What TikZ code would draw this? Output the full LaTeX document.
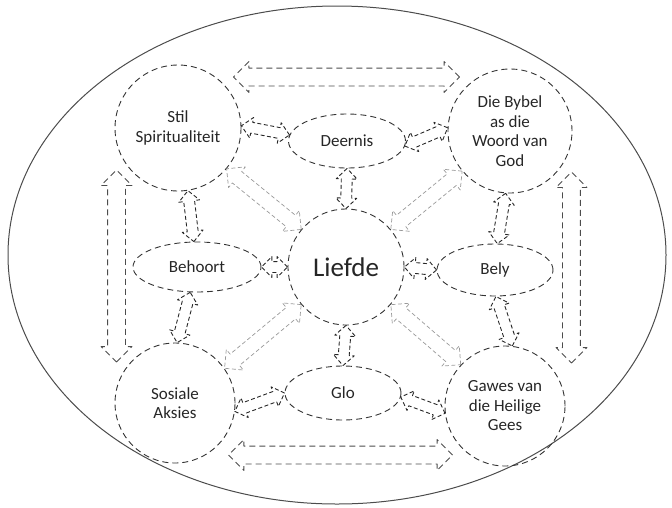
\documentclass[tikz,border=0pt]{standalone}
\usepackage{fontspec}
\setmainfont{Carlito}
\usetikzlibrary{shapes.geometric,shapes.arrows,calc}

\newcommand{\twoway}[3][]{%
  \path let \p1=(#2), \p2=(#3), \n1={veclen(\x2-\x1,\y2-\y1)} in
    (\p1) -- node[sloped,#1,minimum height=\n1] {} (\p2);}

\begin{document}
\begin{tikzpicture}[line join=round,x=1pt,y=-1pt,
  ring/.style={circle,draw=black!80,dash pattern=on 6pt off 4pt,line width=0.9pt,minimum size=#1,inner sep=1pt,align=center,text=black!85,font=\fontsize{17}{19.5}\selectfont},
  oval/.style 2 args={ellipse,draw=black!80,dash pattern=on 6pt off 4pt,line width=0.9pt,minimum width=#1,minimum height=#2,inner sep=1pt,text=black!85,font=\fontsize{17}{19.5}\selectfont},
  linkarrow/.style={double arrow,draw=black!85,dash pattern=on 4pt off 2.5pt,line width=0.9pt,inner xsep=0pt,inner ysep=5pt,double arrow head extend=5},
  bigarrow/.style={linkarrow,draw=black!70,dash pattern=on 6pt off 4pt,inner ysep=8.5pt,double arrow head extend=6.5},
  softarrow/.style={linkarrow,draw=black!40,line width=0.7pt,inner ysep=7pt,double arrow head extend=6}]
\useasboundingbox (0,0) rectangle (672,507);
\draw[black!70,line width=1pt] (337,255) ellipse (329 and 249);

\node[ring=126] (stil) at (178,128) {Stil\\Spiritualiteit};
\node[ring=124] (bybel) at (510,131) {Die Bybel\\as die\\Woord van\\God};
\node[ring=120] (sosiale) at (175,403) {Sosiale\\Aksies};
\node[ring=120] (gawes) at (505,406) {Gawes van\\die Heilige\\Gees};
\node[ring=116,font=\fontsize{27}{30}\selectfont] (liefde) at (346,267) {Liefde};

\node[oval={117}{54}] (deernis) at (347,141) {Deernis};
\node[oval={128}{50}] (behoort) at (197,267) {Behoort};
\node[oval={116}{52}] (bely) at (495,270) {Bely};
\node[oval={116}{54}] (glo) at (343,393) {Glo};

% outer ring
\twoway[bigarrow]{$(stil.east)+(-8,-51)$}{$(bybel.west)+(12,-54)$}
\twoway[bigarrow]{$(sosiale.east)+(-7,52)$}{$(gawes.west)+(8,49)$}
\twoway[bigarrow]{$(stil.west)+(2,42)$}{$(sosiale.west)+(2,-41)$}
\twoway[bigarrow]{$(bybel.east)+(-1,41)$}{$(gawes.east)+(6,-43)$}

% neighbours
\twoway[linkarrow]{stil.2}{deernis.174}
\twoway[linkarrow]{deernis.-5}{bybel.177}
\twoway[linkarrow]{stil.-81}{behoort.97}
\twoway[linkarrow]{bybel.-94}{bely.85}
\twoway[linkarrow]{behoort.-105}{sosiale.88}
\twoway[linkarrow]{bely.-88}{gawes.83}
\twoway[linkarrow]{sosiale.-8}{glo.west}
\twoway[linkarrow]{glo.-4}{gawes.187}

% to the centre
\twoway[linkarrow]{deernis.-90}{liefde.90}
\twoway[linkarrow]{behoort.east}{liefde.west}
\twoway[linkarrow]{liefde.east}{bely.west}
\twoway[linkarrow]{liefde.-90}{glo.90}
\twoway[softarrow]{stil.-40}{liefde.140}
\twoway[softarrow]{bybel.-140}{liefde.40}
\twoway[softarrow]{sosiale.35}{liefde.-140}
\twoway[softarrow]{gawes.137}{liefde.-40}
\end{tikzpicture}
\end{document}
